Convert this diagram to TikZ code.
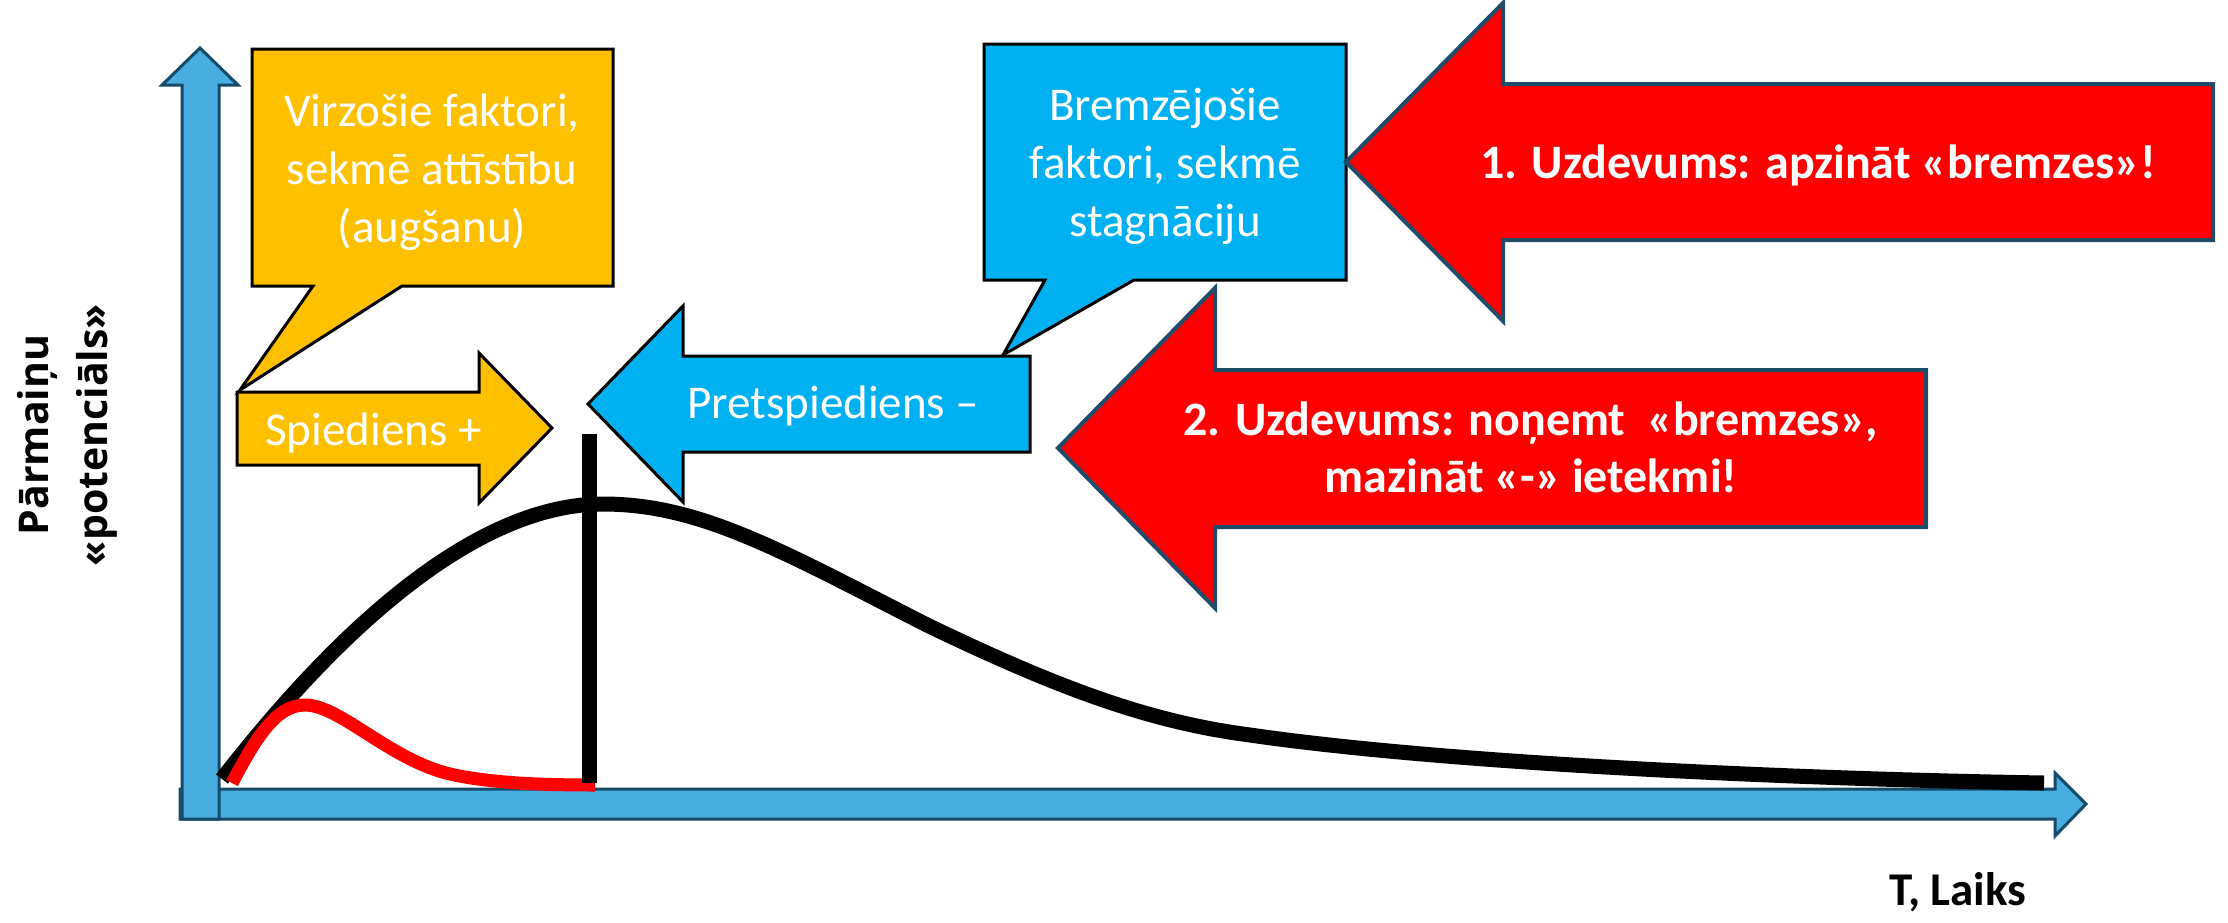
\documentclass[tikz,border=0pt]{standalone}
\usepackage{fontspec}
\setmainfont{Carlito}
\newfontfamily\labelfont{Open Sans}
\definecolor{axisblue}{HTML}{47AEDF}
\definecolor{axisedge}{HTML}{154A68}
\definecolor{calloutyellow}{HTML}{FFC000}
\definecolor{calloutblue}{HTML}{00B0F0}
\definecolor{rededge}{HTML}{1F4D69}
\begin{document}
\begin{tikzpicture}[x=1pt,y=-1pt,
  axisarrow/.style={fill=axisblue, draw=axisedge, line width=3pt, line join=miter},
  yelshape/.style={fill=calloutyellow, draw=black, line width=3pt, line join=miter},
  blushape/.style={fill=calloutblue, draw=black, line width=3pt, line join=miter},
  redshape/.style={fill=red, draw=rededge, line width=4pt, line join=miter},
  boxtext/.style={text=white, font=\fontsize{47}{58}\selectfont, align=center, inner sep=0pt},
  redtext/.style={text=white, font=\bfseries\fontsize{48}{57}\selectfont, align=center, inner sep=0pt},
  curve/.style={line width=15pt, black},
]
\path[use as bounding box] (0,0) rectangle (2228,922);

% time axis and potential axis
\draw[axisarrow] (180,789) -- (2055,789) -- (2055,773) -- (2086,804) -- (2055,836) -- (2055,819) -- (180,819) -- cycle;
\draw[axisarrow] (182,819) -- (182,85) -- (162,85) -- (200,48) -- (238,85) -- (219,85) -- (219,819) -- cycle;

% potential curves
\draw[curve] (222,779) .. controls (330,640) and (470,504) .. (603,504)
  .. controls (700,504) and (780,550) .. (927,625)
  .. controls (1060,689) and (1150,722) .. (1250,735)
  .. controls (1450,764) and (1800,779) .. (2044,783);
\draw[line width=13pt, red] (232,783) .. controls (255,740) and (275,705) .. (305,705)
  .. controls (340,705) and (390,760) .. (450,774)
  .. controls (490,783) and (540,785) .. (595,785);
\coordinate (barTop) at (589,434);
\coordinate (barBot) at (589,783);
\draw[line width=15pt] (barTop) -- (barBot);

% driving factors
\draw[yelshape] (252,49) -- (613,49) -- (613,286) -- (402,286) -- (240,390) -- (313,286) -- (252,286) -- cycle;
\node[boxtext] (drive) at (432,172) {Virzošie faktori,\\sekmē attīstību\\(augšanu)};
\draw[yelshape] (237,392) -- (479,392) -- (479,353) -- (552,428) -- (479,503) -- (479,465) -- (237,465) -- cycle;
\node[boxtext, anchor=base west] (push) at (265,445) {Spiediens +};

% restraining factors
\draw[blushape] (984,44) -- (1346,44) -- (1346,280) -- (1134,280) -- (1003,355) -- (1045,280) -- (984,280) -- cycle;
\node[boxtext] (brake) at (1165,166) {Bremzējošie\\faktori, sekmē\\stagnāciju};
\draw[blushape] (1030,356) -- (683,356) -- (683,306) -- (588,404) -- (683,502) -- (683,452) -- (1030,452) -- cycle;
\node[boxtext, anchor=base west] (counter) at (687,418) {Pretspiediens –};

% tasks
\draw[redshape] (2213,84) -- (1503,84) -- (1503,3) -- (1346,162) -- (1503,321) -- (1503,240) -- (2213,240) -- cycle;
\node[redtext, anchor=base] (task1) at (1818,178) {1. Uzdevums: apzināt «bremzes»!};
\draw[redshape] (1926,370) -- (1215,370) -- (1215,288) -- (1058,448) -- (1215,608) -- (1215,527) -- (1926,527) -- cycle;
\node[redtext] (task2) at (1531,447) {2. Uzdevums: noņemt~ «bremzes»,\\mazināt «-» ietekmi!};

% axis labels
\node[font=\bfseries\fontsize{47}{57}\selectfont, anchor=base west, inner sep=0pt] (tlabel) at (1889,905) {T, Laiks};
\node[rotate=90, align=center, inner sep=0pt, font=\labelfont\bfseries\fontsize{41}{59}\selectfont] (plabel) at (67,435) {Pārmaiņu\\«potenciāls»};
\end{tikzpicture}
\end{document}
